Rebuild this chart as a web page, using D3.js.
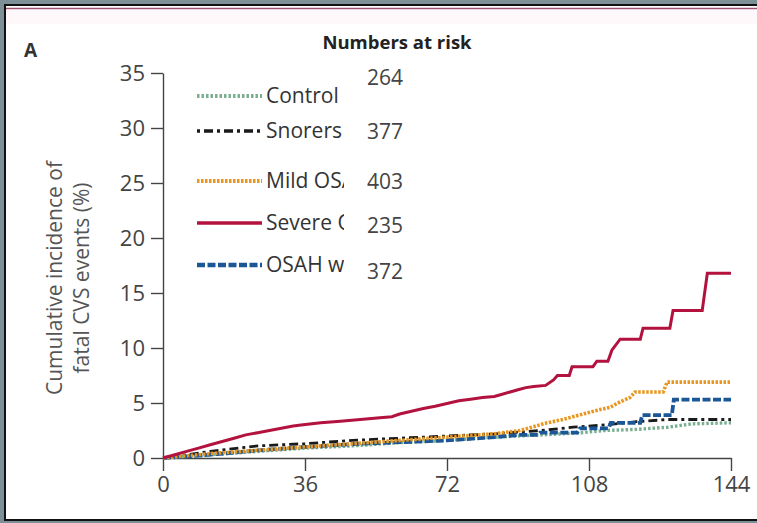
<!DOCTYPE html>
<html><head><meta charset="utf-8">
<script src="https://cdn.jsdelivr.net/npm/d3@7"></script>
<style>
html,body{margin:0;padding:0;background:#7d9098;}
svg{display:block;}
text{font-family:"Open Sans","Noto Sans",sans-serif;}
</style></head><body>
<svg id="c" width="757" height="523"></svg>
<script>
// ---- data ----
const seriesNames = ["Control", "Snorers", "Mild OSA", "Severe OSA", "OSAH with CPAP"];
const numbersAtRisk = [264, 377, 403, 235, 372];
const xTicks = [0, 36, 72, 108, 144];
const yTicks = [0, 5, 10, 15, 20, 25, 30, 35];

const controlData = [[0,0],[12,0.3],[24,0.6],[36,0.9],[48,1.1],[60,1.4],[72,1.6],[84,1.9],[96,2.1],[106,2.3],[112,2.5],[120,2.6],[128,2.8],[134,3.1],[144,3.2]];
const snorersData = [[0,0],[12,0.6],[24,1.1],[36,1.3],[48,1.6],[60,1.8],[72,2.0],[84,2.2],[96,2.5],[104,2.8],[112,3.0],[120,3.3],[128,3.5],[144,3.5]];
const mildData = [[0,0],[12,0.4],[24,0.7],[36,1.0],[48,1.3],[60,1.6],[72,1.9],[84,2.2],[90.5,2.5],[97.4,3.2],[101.4,3.5],[107.5,4.1],[110.8,4.4],[113.3,4.6],[115.9,5.1],[118.4,5.5],[119.7,6.0],[126.8,6.0],[127.8,6.9],[144,6.9]];
const severeData = [[0,0],[3,0.3],[6,0.6],[9,0.9],[12,1.2],[15,1.5],[18,1.8],[21,2.1],[24,2.3],[27,2.5],[30,2.7],[33,2.9],[35,3.0],[40,3.2],[45,3.35],[50,3.5],[55,3.65],[58,3.75],[60,4.0],[63,4.25],[66,4.5],[69,4.7],[72,4.95],[75,5.2],[78,5.35],[81,5.5],[84,5.6],[86,5.8],[88,6.0],[90,6.2],[92,6.4],[94,6.5],[97,6.6],[99,7.1],[100,7.5],[103,7.5],[103.7,8.3],[109,8.3],[110,8.8],[112.8,8.8],[113.8,9.8],[115.9,10.8],[121,10.8],[121.7,11.8],[128.5,11.8],[129.3,13.4],[136.7,13.4],[138,16.8],[144,16.8]];
const cpapData = [[0,0],[12,0.3],[24,0.7],[36,1.0],[50,1.3],[72,1.6],[84,1.9],[90.5,2.1],[95,2.1],[95.6,2.3],[105,2.3],[105.7,2.7],[113,2.7],[113.5,3.2],[121,3.2],[121.5,3.9],[129,3.9],[129.5,5.3],[144,5.3]];

const seriesData = [controlData, snorersData, mildData, severeData, cpapData];
const seriesColors = ["#7aae90", "#1a1a1a", "#e8961e", "#b3123e", "#1b5797"];
const seriesDash = ["2.5,2", "3,4,9,4", "2.5,1.5", null, "8,2.5"];
const seriesWidth = [3.4, 2.8, 3.6, 3, 3.8];

// ---- layout ----
const svg = d3.select("#c");
svg.append("rect").attr("x",5).attr("y",5).attr("width",760).attr("height",515).attr("fill","#fff").attr("stroke","#111").attr("stroke-width",2);
svg.append("line").attr("x1",6).attr("x2",757).attr("y1",8.5).attr("y2",8.5).attr("stroke","#a05070").attr("stroke-width",1.5);
svg.append("rect").attr("x",6).attr("y",10).attr("width",751).attr("height",14).attr("fill","#fff8fb");

const x = d3.scaleLinear().domain([0,144]).range([163,731]);
const y = d3.scaleLinear().domain([0,35]).range([458,73]);

// axes
const ax = svg.append("g").attr("transform","translate(0,458)")
  .call(d3.axisBottom(x).tickValues(xTicks).tickSize(13).tickSizeOuter(0).tickPadding(5));
ax.select(".domain").attr("stroke","#444").attr("stroke-width",1.4);
ax.selectAll(".tick line").attr("stroke","#444").attr("stroke-width",1.4);
ax.selectAll(".tick text").attr("font-size",22).attr("fill","#444");

const ay = svg.append("g").attr("transform","translate(163,0)")
  .call(d3.axisLeft(y).tickValues(yTicks).tickSize(12).tickSizeOuter(0).tickPadding(6));
ay.select(".domain").attr("stroke","#444").attr("stroke-width",1.4);
ay.selectAll(".tick line").attr("stroke","#444").attr("stroke-width",1.4);
ay.selectAll(".tick text").attr("font-size",22).attr("fill","#444");

// y label
const yl = svg.append("text").attr("transform","translate(62,278) rotate(-90)").attr("text-anchor","middle")
  .attr("font-size",21).attr("fill","#555");
yl.append("tspan").attr("x",0).attr("dy",0).text("Cumulative incidence of");
yl.append("tspan").attr("x",0).attr("dy",27).text("fatal CVS events (%)");

svg.append("text").attr("x",24).attr("y",57).attr("font-size",19).attr("font-weight","bold").attr("fill","#333").text("A");

// curves
const line = d3.line().x(d=>x(d[0])).y(d=>y(d[1])).curve(d3.curveLinear);
const order = [0,1,4,2,3];
order.forEach(i=>{
  svg.append("path").attr("d",line(seriesData[i])).attr("fill","none")
    .attr("stroke",seriesColors[i]).attr("stroke-width",seriesWidth[i])
    .attr("stroke-dasharray",seriesDash[i]).attr("stroke-linejoin","miter");
});

// legend
const legY = [96, 131, 181, 223, 265];
const defs = svg.append("defs");
defs.append("clipPath").attr("id","lc").append("rect").attr("x",190).attr("y",60).attr("width",154).attr("height",230);
const lg = svg.append("g").attr("clip-path","url(#lc)");
seriesNames.forEach((n,i)=>{
  lg.append("line").attr("x1",197).attr("x2",262).attr("y1",legY[i]).attr("y2",legY[i])
    .attr("stroke",seriesColors[i]).attr("stroke-width",seriesWidth[i]+0.5).attr("stroke-dasharray",seriesDash[i]);
  lg.append("text").attr("x",266).attr("y",legY[i]+7).attr("font-size",21).attr("fill","#333").text(n);
});

// numbers at risk
svg.append("text").attr("x",397).attr("y",49).attr("text-anchor","middle").attr("font-size",18.5).attr("font-weight","bold").attr("fill","#222").text("Numbers at risk");
const riskY = [85, 139, 189, 233, 279];
numbersAtRisk.forEach((v,i)=>{
  svg.append("text").attr("x",367).attr("y",riskY[i]).attr("font-size",21).attr("fill","#444").text(v);
});
</script>
</body></html>
